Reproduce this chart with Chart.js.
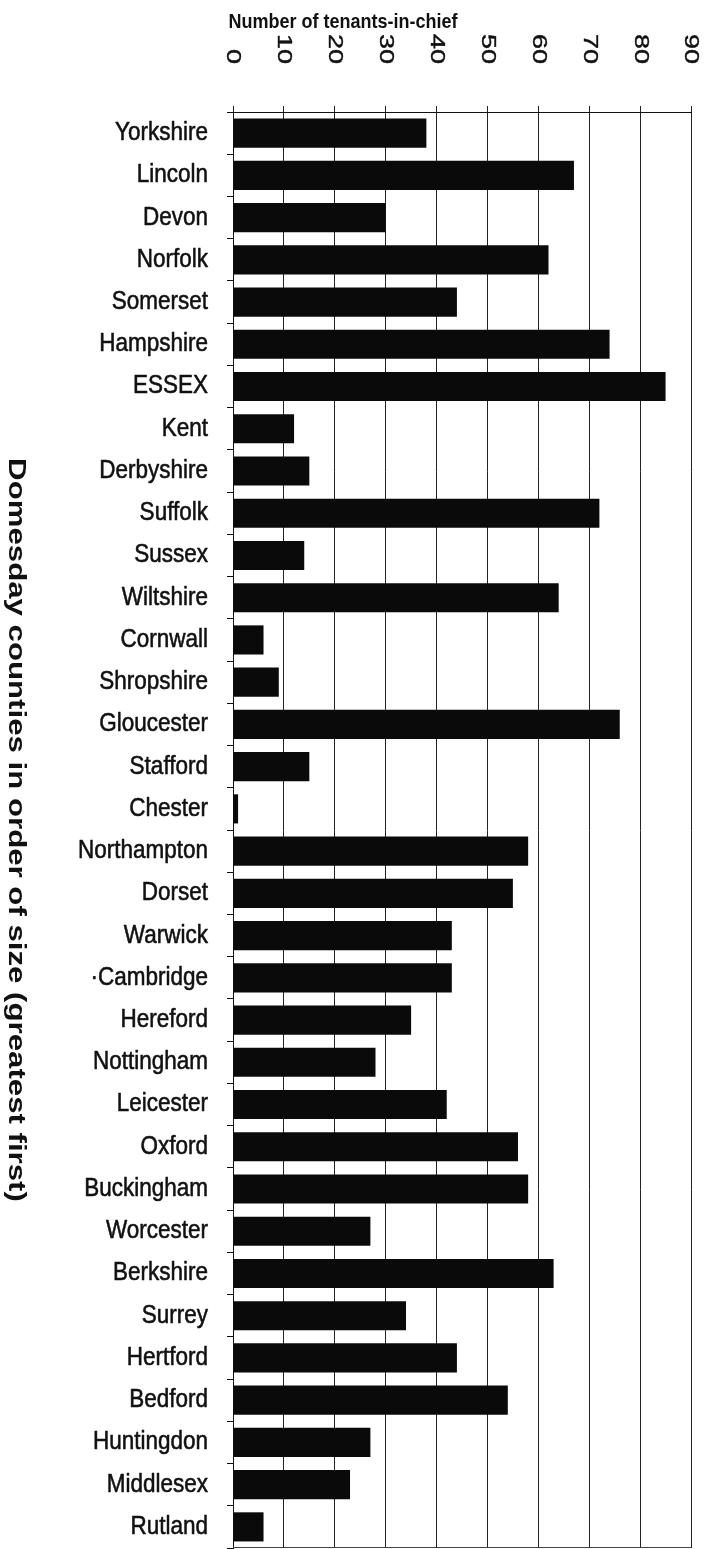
<!DOCTYPE html>
<html>
<head>
<meta charset="utf-8">
<script src="https://cdn.jsdelivr.net/npm/chart.js@4"></script>
<style>
  html, body { margin: 0; padding: 0; background: #fff; }
  #wrap { width: 707px; height: 1549px; }
</style>
</head>
<body>
<div id="wrap"><canvas id="tenantsChart" width="707" height="1549"></canvas></div>
<script>
// Domesday counties, largest first, and their tenants-in-chief
const counties = [
    'Yorkshire', 'Lincoln', 'Devon', 'Norfolk', 'Somerset', 'Hampshire', 'ESSEX',
    'Kent', 'Derbyshire', 'Suffolk', 'Sussex', 'Wiltshire', 'Cornwall', 'Shropshire',
    'Gloucester', 'Stafford', 'Chester', 'Northampton', 'Dorset', 'Warwick',
    '\u00B7Cambridge', 'Hereford', 'Nottingham', 'Leicester', 'Oxford', 'Buckingham',
    'Worcester', 'Berkshire', 'Surrey', 'Hertford', 'Bedford', 'Huntingdon',
    'Middlesex', 'Rutland'
];
const tenants = [
    38, 67, 30, 62, 44, 74, 85,
    12, 15, 72, 14, 64, 6, 9,
    76, 15, 1, 58, 55, 43,
    43, 35, 28, 42, 56, 58,
    27, 63, 34, 44, 54, 27,
    23, 6
];
const tickValues = [0, 10, 20, 30, 40, 50, 60, 70, 80, 90];
const xTitle = 'Number of tenants-in-chief';
const yTitle = 'Domesday counties in order of size (greatest first)';

const FONT = '"Liberation Sans", Arial, Helvetica, sans-serif';
const INK = '#111';

// scanned text is a bit heavier and stretched, so draw it by hand
function inkText(ctx, text, weight) {
    ctx.fillText(text, 0, 0);
    if (weight) {
        ctx.lineWidth = weight;
        ctx.strokeText(text, 0, 0);
    }
}

const handText = {
    id: 'handText',
    afterDraw(chart) {
        const { ctx, chartArea, scales: { x, y } } = chart;
        ctx.save();
        ctx.fillStyle = INK;
        ctx.strokeStyle = INK;
        ctx.lineJoin = 'round';

        // top title
        ctx.save();
        ctx.translate(343, 22);
        ctx.scale(1, 1.15);
        ctx.font = 'bold 18px ' + FONT;
        ctx.textAlign = 'center';
        ctx.textBaseline = 'middle';
        inkText(ctx, xTitle, 0);
        ctx.restore();

        // value ticks, reading top to bottom
        ctx.font = '20px ' + FONT;
        tickValues.forEach(v => {
            ctx.save();
            ctx.translate(x.getPixelForValue(v), 64);
            ctx.rotate(Math.PI / 2);
            ctx.scale(1.35, 1);
            ctx.textAlign = 'right';
            ctx.textBaseline = 'middle';
            inkText(ctx, String(v), 0.4);
            ctx.restore();
        });

        // county names
        ctx.font = '22.5px ' + FONT;
        counties.forEach((name, i) => {
            ctx.save();
            ctx.translate(208, y.getPixelForValue(i));
            ctx.scale(1, 1.12);
            ctx.textAlign = 'right';
            ctx.textBaseline = 'middle';
            inkText(ctx, name, 0.5);
            ctx.restore();
        });

        // side title
        ctx.save();
        ctx.translate(16, (chartArea.top + chartArea.bottom) / 2);
        ctx.rotate(Math.PI / 2);
        ctx.scale(1.3, 1);
        ctx.font = 'bold 24px ' + FONT;
        ctx.textAlign = 'center';
        ctx.textBaseline = 'middle';
        inkText(ctx, yTitle, 0);
        ctx.restore();

        // closing line under the last bar
        ctx.strokeStyle = '#444';
        ctx.lineWidth = 1;
        ctx.beginPath();
        ctx.moveTo(chartArea.left, chartArea.bottom - 0.5);
        ctx.lineTo(chartArea.right, chartArea.bottom - 0.5);
        ctx.stroke();
        ctx.restore();
    }
};

new Chart(document.getElementById('tenantsChart'), {
    type: 'bar',
    data: {
        labels: counties,
        datasets: [{
            data: tenants,
            backgroundColor: '#0a0a0a',
            borderWidth: 0,
            barPercentage: 0.69,
            categoryPercentage: 1
        }]
    },
    options: {
        indexAxis: 'y',
        responsive: false,
        animation: false,
        layout: { padding: { left: 0, right: 16, top: 0, bottom: 1 } },
        plugins: { legend: { display: false }, tooltip: { enabled: false } },
        scales: {
            x: {
                position: 'top',
                min: 0,
                max: 90,
                ticks: { stepSize: 10, display: false },
                grid: { color: '#222', lineWidth: 1, tickLength: 6 },
                border: { color: INK },
                afterFit(scale) { scale.height = 112; }
            },
            y: {
                ticks: { display: false, autoSkip: false },
                grid: { drawOnChartArea: false, tickLength: 6, color: INK },
                border: { color: INK },
                afterFit(scale) { scale.width = 233; }
            }
        }
    },
    plugins: [handText]
});
</script>
</body>
</html>
